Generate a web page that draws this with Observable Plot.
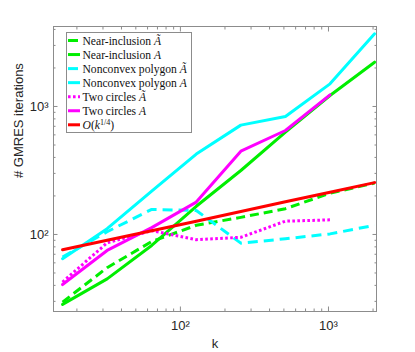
<!DOCTYPE html>
<html><head><meta charset="utf-8">
<script src="https://cdn.jsdelivr.net/npm/d3@7"></script>
<script src="https://cdn.jsdelivr.net/npm/@observablehq/plot@0.6"></script>
<style>body{margin:0;background:#fff} #chart{width:415px;height:352px}</style>
</head><body><div id="chart"></div>
<script>
// x values (k)
const k = [16, 32, 64, 128, 256, 512, 1024, 2048];
// GMRES iterations per series
const nearInclusionAt = [29.6, 55, 88, 118, 136, 159, 210, 252];
const nearInclusionA  = [28.4, 45, 82, 166, 316, 630, 1219, 2219];
const polygonAt       = [66.6, 105, 157, 154, 85.5, 92.5, 101, 118];
const polygonA        = [64.6, 111, 218, 425, 715, 835, 1503, 3700];
const circlesAt       = [42.5, 86, 107, 91, 95, 127, 130];
const circlesA        = [40.6, 75, 113, 179, 447, 649, 1233];
const orderRef        = [76, 90, 107, 127, 151, 180, 214, 254];

const seriesLabels = ["Near-inclusion Ã", "Near-inclusion A", "Nonconvex polygon Ã", "Nonconvex polygon A", "Two circles Ã", "Two circles A", "O(k1/4)"];
const seriesColors = ["#00ee00", "#00ee00", "#00ffff", "#00ffff", "#ff00ff", "#ff00ff", "#ff0000"];
const seriesDash   = ["9,5", null, "10,6", null, "2.6,2.4", null, null];
const seriesValues = [nearInclusionAt, nearInclusionA, polygonAt, polygonA, circlesAt, circlesA, orderRef];

const xMajor = [100, 1000];
const xMinor = [20, 30, 40, 50, 60, 70, 80, 90, 200, 300, 400, 500, 600, 700, 800, 900, 2000];
const yMajor = [100, 1000];
const yMinor = [30, 40, 50, 60, 70, 80, 90, 200, 300, 400, 500, 600, 700, 800, 900, 2000, 3000, 4000];

const supDigits = {"2": "²", "3": "³"};
const fmt = d => "10" + supDigits[String(Math.round(Math.log10(d)))];

const axisGray = "#8c8c8c";
const lineMarks = seriesValues.map((vals, i) =>
  Plot.line(vals.map((v, j) => ({k: k[j], v})), {
    x: "k", y: "v", stroke: seriesColors[i], strokeWidth: 3,
    strokeDasharray: seriesDash[i] || undefined,
    strokeLinecap: seriesDash[i] ? "butt" : "round",
    strokeLinejoin: "round"
  })
);

const tickOpts = (size) => ({tickSize: size, fill: "none", tickFormat: () => "", stroke: axisGray, label: null});

const chart = Plot.plot({
  width: 415, height: 352,
  marginLeft: 53, marginRight: 39, marginTop: 26, marginBottom: 41,
  x: {type: "log", domain: [13.9, 2110]},
  y: {type: "log", domain: [25, 4217]},
  style: {fontFamily: "'Liberation Sans', Arial, sans-serif", fontSize: "13px", color: "#262626", background: "#fff"},
  marks: [
    Plot.frame({stroke: axisGray}),
    Plot.axisX(xMajor, {anchor: "bottom", ...tickOpts(-4.5)}),
    Plot.axisX(xMinor, {anchor: "bottom", ...tickOpts(-2.5)}),
    Plot.axisX(xMajor, {anchor: "top", ...tickOpts(-4.5)}),
    Plot.axisX(xMinor, {anchor: "top", ...tickOpts(-2.5)}),
    Plot.axisY(yMajor, {anchor: "left", ...tickOpts(-4.5)}),
    Plot.axisY(yMinor, {anchor: "left", ...tickOpts(-2.5)}),
    Plot.axisY(yMajor, {anchor: "right", ...tickOpts(-4.5)}),
    Plot.axisY(yMinor, {anchor: "right", ...tickOpts(-2.5)}),
    Plot.axisX(xMajor, {anchor: "bottom", tickSize: 0, tickPadding: 9, tickFormat: fmt, label: null, fill: "#262626"}),
    Plot.axisY(yMajor, {anchor: "left", tickSize: 0, tickPadding: 5, tickFormat: fmt, label: null, fill: "#262626"}),
    Plot.text(["k"], {frameAnchor: "bottom", dy: 32, text: d => d, fontSize: 13, fill: "#262626", lineAnchor: "middle"}),
    Plot.text(["# GMRES iterations"], {frameAnchor: "left", rotate: -90, dx: -35, dy: 9, text: d => d, fontSize: 13, fill: "#262626"}),
    ...lineMarks
  ]
});

// Legend (inside plot, top-left)
const svg = d3.select(chart);
const lg = svg.append("g")
  .attr("font-family", "'Liberation Serif', 'Times New Roman', serif")
  .attr("font-size", 11.6).attr("fill", "#111").attr("text-anchor", "start");
const lx = 53 + 13.5, ly = 26 + 6.5, rowH = 14.05;
lg.append("rect").attr("x", lx).attr("y", ly).attr("width", 125).attr("height", 100)
  .attr("fill", "#fff").attr("stroke", axisGray).attr("stroke-width", 1);
seriesLabels.forEach((lab, i) => {
  const cy = ly + 8 + rowH * i;
  lg.append("line").attr("x1", lx + 1.5).attr("x2", lx + 13.5).attr("y1", cy).attr("y2", cy)
    .attr("stroke", seriesColors[i]).attr("stroke-width", 3)
    .attr("stroke-dasharray", seriesDash[i] ? (i === 4 ? "2.6,2.4" : "10,2") : null);
  const t = lg.append("text").attr("x", lx + 16).attr("y", cy).attr("dy", "0.35em").attr("text-anchor", "start");
  if (i === 6) {
    t.append("tspan").attr("font-style", "italic").text("O");
    t.append("tspan").text("(");
    t.append("tspan").attr("font-style", "italic").text("k");
    t.append("tspan").attr("font-size", 8).attr("dy", -4).text("1/4");
    t.append("tspan").attr("dy", 4).text(")");
  } else {
    const base = lab.slice(0, -1);
    const last = lab.slice(-1);
    t.append("tspan").text(base);
    t.append("tspan").attr("font-style", "italic").text(last);
  }
});

document.getElementById("chart").appendChild(chart);
</script>
</body></html>
